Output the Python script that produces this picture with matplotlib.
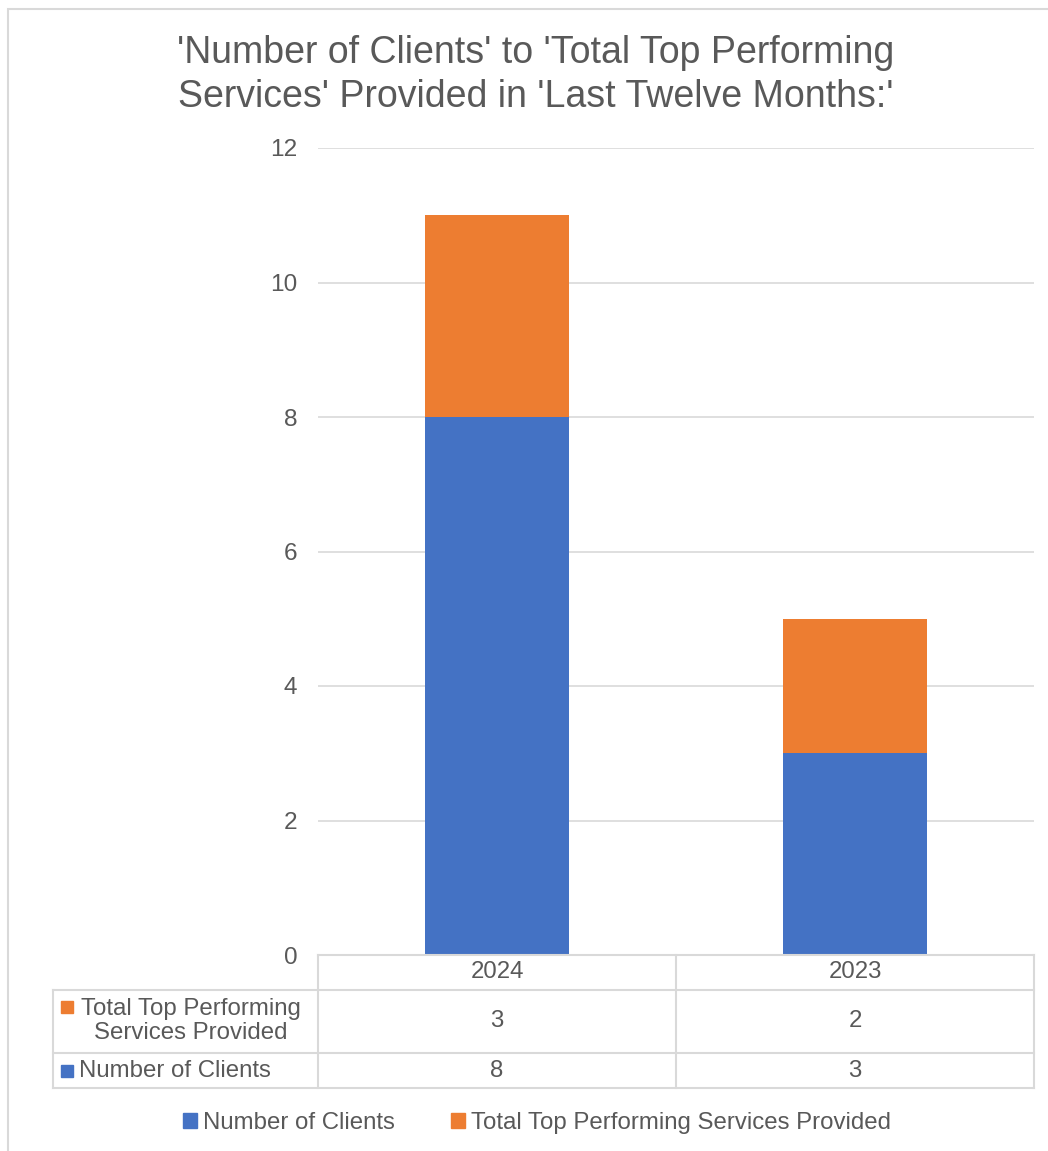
import matplotlib.pyplot as plt
from matplotlib.patches import Rectangle, Patch
from matplotlib.lines import Line2D
import matplotlib.transforms as mtransforms

plt.rcParams['font.family'] = ['Liberation Sans', 'DejaVu Sans']

# data
years = ['2024', '2023']
clients = [8, 3]
services = [3, 2]
series_names = ['Number of Clients', 'Total Top Performing Services Provided']
table_labels = ['Total Top Performing\nServices Provided', 'Number of Clients']
y_ticks = [0, 2, 4, 6, 8, 10, 12]

BLUE = '#4472C4'
ORANGE = '#ED7D31'
TXT = '#595959'
GRID = '#D9D9D9'
FS = 17.3

W, H = 1048, 1151
fig = plt.figure(figsize=(W / 100, H / 100), dpi=100)

def fx(px):
    return px / W

def fy(py):
    return 1 - py / H

# outer chart border
fig.patches.append(Rectangle((fx(8), fy(1160)), fx(1060) - fx(8), fy(9) - fy(1160),
                             transform=fig.transFigure, fill=False,
                             edgecolor=GRID, lw=1.5))

ax = fig.add_axes([fx(318), fy(955), fx(1034) - fx(318), fy(148) - fy(955)])
x = range(len(years))
ax.bar(x, clients, width=0.4, color=BLUE, zorder=3)
ax.bar(x, services, width=0.4, bottom=clients, color=ORANGE, zorder=3)
ax.set_xlim(-0.5, len(years) - 0.5)
ax.set_ylim(0, 12)
ax.set_yticks(y_ticks)
ax.set_xticks([])
ax.tick_params(axis='y', length=0, pad=15, labelsize=FS + 0.3, labelcolor=TXT)
ax.grid(axis='y', color=GRID, lw=1.2, zorder=0)
for s in ax.spines.values():
    s.set_visible(False)

fig.text(fx(536), fy(75), "'Number of Clients' to 'Total Top Performing\n"
         "Services' Provided in 'Last Twelve Months:'",
         ha='center', va='center', fontsize=27, color=TXT, linespacing=1.3)

# data table below the plot: x in data units, y in figure pixels
tr = mtransforms.blended_transform_factory(ax.transData, fig.transFigure)
x0, x1 = -0.5, len(years) - 0.5
row_y = [955, 990, 1053, 1088]
lk = dict(color=GRID, lw=1.5, clip_on=False)

fig.add_artist(Line2D([x0, x1], [fy(955), fy(955)], transform=tr, **lk))
for yy in row_y[1:]:
    fig.add_artist(Line2D([fx(53), fx(1034)], [fy(yy), fy(yy)],
                          transform=fig.transFigure, **lk))
fig.add_artist(Line2D([fx(53), fx(53)], [fy(990), fy(1088)],
                      transform=fig.transFigure, **lk))
for i in range(len(years) + 1):
    xx = i - 0.5
    fig.add_artist(Line2D([xx, xx], [fy(955), fy(1088)], transform=tr, **lk))

for i, yr in enumerate(years):
    fig.text(i, fy(972), yr, transform=tr, ha='center', va='center',
             fontsize=FS, color=TXT)
    fig.text(i, fy(1021), str(services[i]), transform=tr, ha='center',
             va='center', fontsize=FS, color=TXT)
    fig.text(i, fy(1071), str(clients[i]), transform=tr, ha='center',
             va='center', fontsize=FS, color=TXT)

# row headers with colour keys
fig.patches.append(Rectangle((fx(61), fy(1013)), fx(12), fy(0) - fy(12),
                             transform=fig.transFigure, color=ORANGE))
fig.text(fx(191), fy(1021), table_labels[0], ha='center', va='center',
         fontsize=FS, color=TXT, linespacing=1.1, multialignment='center')
fig.patches.append(Rectangle((fx(61), fy(1077)), fx(12), fy(0) - fy(12),
                             transform=fig.transFigure, color=BLUE))
fig.text(fx(79), fy(1071), table_labels[1], ha='left', va='center',
         fontsize=FS, color=TXT)

handles = [Patch(color=BLUE), Patch(color=ORANGE)]
fig.legend(handles, series_names, loc='center', bbox_to_anchor=(fx(537), fy(1123)),
           ncol=2, frameon=False, fontsize=FS, labelcolor=TXT,
           handlelength=0.6, handleheight=0.6, handletextpad=0.25,
           columnspacing=2.3)

fig.savefig('out.png', dpi=100, facecolor='white')
